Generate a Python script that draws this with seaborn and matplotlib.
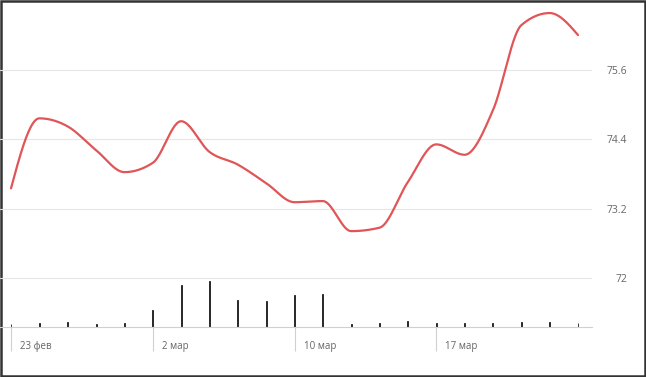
import numpy as np
import pandas as pd
import matplotlib
matplotlib.use("Agg")
import matplotlib.pyplot as plt
from matplotlib.patches import Rectangle
import seaborn as sns

# ---- data ----
price = [73.55, 74.76, 74.62, 74.21, 73.83, 73.99, 74.71, 74.18, 73.96, 73.64,
         73.31, 73.33, 72.81, 72.87, 73.66, 74.31, 74.13, 74.90, 76.37, 76.58, 76.20]
volume = [3.3, 4.3, 5.3, 3.3, 4.3, 16.7, 42.3, 46.3, 27.0, 26.0, 32.3, 33.3,
          3.3, 3.7, 6.0, 4.3, 4.3, 3.7, 5.3, 5.3, 3.7]
tick_idx = [0, 5, 10, 15]
tick_labels = ["23 фев", "2 мар", "10 мар", "17 мар"]
y_ticks = [72, 73.2, 74.4, 75.6]
y_tick_labels = ["72", "73.2", "74.4", "75.6"]


def monotone_x(y, xs):
    """Steffen monotone cubic (like d3.curveMonotoneX) evaluated at xs; unit spacing."""
    y = np.asarray(y, float)
    n = len(y)
    s = np.diff(y)
    d = np.zeros(n)
    for k in range(1, n - 1):
        s0, s1 = s[k - 1], s[k]
        p = (s0 + s1) / 2
        d[k] = (np.sign(s0) + np.sign(s1)) * min(abs(s0), abs(s1), 0.5 * abs(p))
    d[0] = (3 * s[0] - d[1]) / 2
    d[-1] = (3 * s[-1] - d[-2]) / 2
    out = np.empty_like(xs)
    for i, x in enumerate(xs):
        k = min(int(np.floor(x)), n - 2)
        t = x - k
        h00 = 2 * t**3 - 3 * t**2 + 1
        h10 = t**3 - 2 * t**2 + t
        h01 = -2 * t**3 + 3 * t**2
        h11 = t**3 - t**2
        out[i] = h00 * y[k] + h10 * d[k] + h01 * y[k + 1] + h11 * d[k + 1]
    return out


sns.set_theme(style="white")
plt.rcParams["font.family"] = ["Open Sans", "DejaVu Sans"]

W, H = 646, 377
fig = plt.figure(figsize=(W / 100, H / 100), dpi=100)
fig.patch.set_facecolor("white")

base_px = 327
right_px = 592
ax = fig.add_axes([0, (H - base_px) / H, right_px / W, base_px / H])
ax2 = ax.twinx()

# x scale: index 0 at px 11, 28.35 px per step
x0_px, step = 11.0, 28.35
xlim = (-x0_px / step, (right_px - x0_px) / step)
# y scale: 72 at px 278, 57.85 px per unit
ppu = 57.85
ylim = (72 - (base_px - 278) / ppu, 72 + 278 / ppu)

# volume bars
vdf = pd.DataFrame({"i": list(range(len(volume))), "v": volume})
sns.barplot(data=vdf, x="i", y="v", ax=ax2, color="#1a1a1a", width=0.035,
            saturation=1, errorbar=None, edgecolor="#1a1a1a", linewidth=0.6)
ax2.set_ylim(0, base_px)
ax2.set_yticks([])
ax2.set_ylabel("")
ax2.set_xlabel("")
for sp in ax2.spines.values():
    sp.set_visible(False)

# price line
xs = np.linspace(0, len(price) - 1, 800)
ys = monotone_x(price, xs)
ldf = pd.DataFrame({"x": xs, "y": ys})
sns.lineplot(data=ldf, x="x", y="y", ax=ax, color="#e05557", linewidth=1.6)

ax.set_zorder(ax2.get_zorder() + 1)
ax.patch.set_visible(False)

ax.set_xlim(*xlim)
ax2.set_xlim(*xlim)
ax.set_ylim(*ylim)

ax.set_yticks(y_ticks)
ax.yaxis.tick_right()
ax.set_yticklabels(y_tick_labels)
ax.tick_params(axis="y", length=0, pad=25.2, labelsize=7.5, labelcolor="#666666")
for lab in ax.get_yticklabels():
    lab.set_horizontalalignment("right")
ax.grid(axis="y", color="#e6e6e6", linewidth=0.8)
ax.grid(axis="x", visible=False)
ax.set_xlabel("")
ax.set_ylabel("")

ax.set_xticks(tick_idx)
ax.set_xticklabels([""] * len(tick_idx))
ax.tick_params(axis="x", direction="out", length=17, width=0.8, color="#d0d0d0", bottom=True)
for i, lab in zip(tick_idx, tick_labels):
    ax.annotate(lab, xy=(i, 0), xycoords=ax.get_xaxis_transform(),
                xytext=(6.5, -13.7), textcoords="offset points",
                ha="left", va="center", fontsize=7, color="#666666")

for k, sp in ax.spines.items():
    sp.set_visible(k == "bottom")
ax.spines["bottom"].set_color("#d0d0d0")
ax.spines["bottom"].set_linewidth(0.8)

fig.add_artist(Rectangle((0.0015, 0.0025), 0.997, 0.995, transform=fig.transFigure,
                         fill=False, edgecolor="#333333", linewidth=1.8))

fig.savefig("out.png", dpi=100, facecolor="white")
